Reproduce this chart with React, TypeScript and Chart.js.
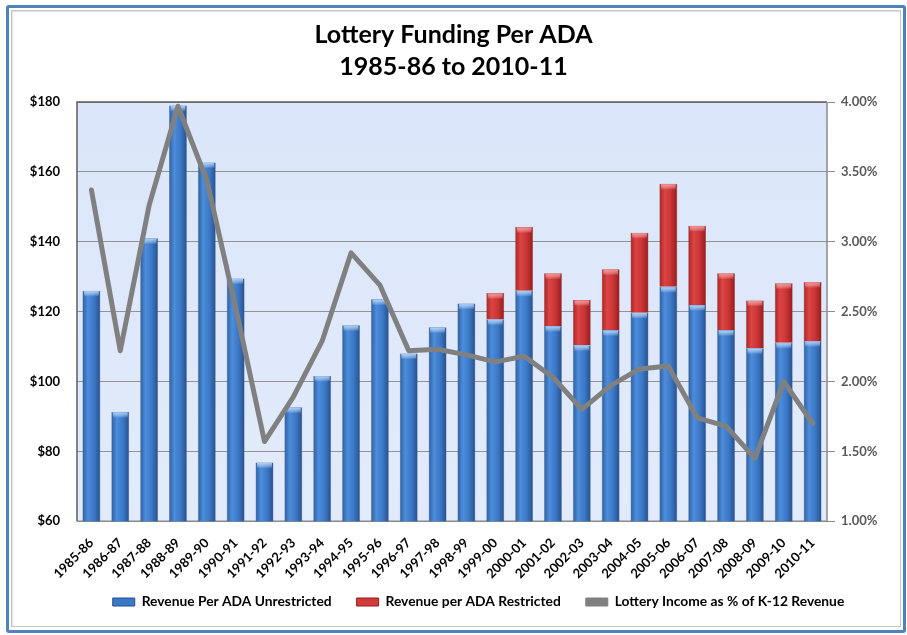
import React, { useEffect, useRef } from "react";
import { Chart, registerables } from "chart.js";

Chart.register(...registerables);

const categories = [
  "1985-86", "1986-87", "1987-88", "1988-89", "1989-90", "1990-91", "1991-92",
  "1992-93", "1993-94", "1994-95", "1995-96", "1996-97", "1997-98", "1998-99",
  "1999-00", "2000-01", "2001-02", "2002-03", "2003-04", "2004-05", "2005-06",
  "2006-07", "2007-08", "2008-09", "2009-10", "2010-11",
];

const unrestricted = [
  126, 91.3, 141, 179, 162.7, 129.5, 76.8, 92.6, 101.6, 116.1, 123.5, 108, 115.5,
  122.3, 117.8, 126, 115.9, 110.4, 114.7, 119.7, 127.1, 121.9, 114.7, 109.5, 111.1, 111.6,
];

const restricted = [
  null, null, null, null, null, null, null, null, null, null, null, null, null, null,
  7.5, 18.2, 15.1, 12.9, 17.4, 22.9, 29.5, 22.7, 16.3, 13.7, 17.0, 16.9,
];

const lotteryPct = [
  3.37, 2.22, 3.26, 3.97, 3.44, 2.53, 1.57, 1.89, 2.29, 2.92, 2.69, 2.22, 2.23,
  2.19, 2.14, 2.18, 2.03, 1.8, 1.97, 2.09, 2.11, 1.74, 1.68, 1.45, 2.0, 1.7,
];

const leftTicks = [60, 80, 100, 120, 140, 160, 180];
const rightTicks = [1.0, 1.5, 2.0, 2.5, 3.0, 3.5, 4.0];

const titleLines = ["Lottery Funding Per ADA", "1985-86 to 2010-11"];
const seriesNames = [
  "Revenue Per ADA Unrestricted",
  "Revenue per ADA Restricted",
  "Lottery Income as % of K-12 Revenue",
];

const FONT = "Lato, 'Noto Sans', sans-serif";
const LEGEND_FONT = 13.8;
const LEGEND_PAD = 25;

function barGradient(stops: string[]) {
  return (ctx: any) => {
    const chart = ctx.chart;
    const xs = chart.scales && chart.scales.x;
    if (!xs || ctx.type !== "data" || !chart.chartArea) return stops[2];
    const cx = xs.getPixelForValue(ctx.dataIndex);
    const w = (xs.width / categories.length) * 0.62;
    const g = chart.ctx.createLinearGradient(cx - w / 2, 0, cx + w / 2, 0);
    g.addColorStop(0, stops[0]);
    g.addColorStop(0.3, stops[1]);
    g.addColorStop(0.65, stops[2]);
    g.addColorStop(1, stops[3]);
    return g;
  };
}

const plotDecor = {
  id: "plotDecor",
  afterLayout(chart: any) {
    const lg = chart.legend;
    if (lg) {
      lg.left += 25;
      lg.right += 25;
      const h = lg.bottom - lg.top;
      lg.top = 602 - LEGEND_PAD - LEGEND_FONT / 2;
      lg.bottom = lg.top + h;
    }
  },
  beforeDraw(chart: any) {
    const { ctx, chartArea: a } = chart;
    ctx.save();
    const g = ctx.createLinearGradient(0, a.top, 0, a.bottom);
    g.addColorStop(0, "#dbe6fa");
    g.addColorStop(1, "#e2ebfb");
    ctx.fillStyle = g;
    ctx.fillRect(a.left, a.top, a.right - a.left, a.bottom - a.top);
    ctx.restore();
  },
  beforeDatasetsDraw(chart: any) {
    const { ctx, chartArea: a } = chart;
    ctx.save();
    ctx.lineWidth = 1.5;
    ctx.strokeStyle = "#5f5f5f";
    ctx.beginPath();
    ctx.moveTo(a.left, a.bottom);
    ctx.lineTo(a.left, a.top);
    ctx.lineTo(a.right, a.top);
    ctx.stroke();
    ctx.strokeStyle = "#8a8a8a";
    ctx.beginPath();
    ctx.moveTo(a.right, a.top);
    ctx.lineTo(a.right, a.bottom);
    ctx.lineTo(a.left, a.bottom);
    ctx.stroke();
    ctx.restore();
  },
  afterDatasetDraw(chart: any, args: any) {
    const meta = args.meta;
    if (meta.type !== "bar") return;
    const ds = chart.data.datasets[args.index];
    const cap = args.index === 0 ? "rgba(175,215,255,0.95)" : "rgba(255,140,140,0.95)";
    const { ctx, chartArea: a } = chart;
    ctx.save();
    ctx.beginPath();
    ctx.rect(a.left, a.top, a.right - a.left, a.bottom - a.top);
    ctx.clip();
    meta.data.forEach((el: any, i: number) => {
      if (ds.data[i] == null) return;
      const { x, y, width } = el.getProps(["x", "y", "width"], true);
      const g = ctx.createLinearGradient(0, y, 0, y + 6);
      g.addColorStop(0, cap);
      g.addColorStop(1, "rgba(255,255,255,0)");
      ctx.fillStyle = g;
      ctx.fillRect(x - width / 2 + 1.5, y + 0.5, width - 3, 6);
    });
    ctx.restore();
  },
};

export default function App() {
  const ref = useRef<HTMLCanvasElement | null>(null);

  useEffect(() => {
    if (!ref.current) return;
    const chart = new Chart(ref.current, {
      type: "bar",
      data: {
        labels: categories,
        datasets: [
          {
            type: "bar",
            label: seriesNames[0],
            data: unrestricted,
            yAxisID: "y",
            order: 1,
            backgroundColor: barGradient(["#2f5e9c", "#4c8ddc", "#3b78c6", "#27508c"]),
            borderColor: "rgba(40,80,140,0.8)",
            borderWidth: 0.5,
            barPercentage: 0.62,
            categoryPercentage: 1,
          },
          {
            type: "bar",
            label: seriesNames[1],
            data: restricted,
            yAxisID: "y",
            order: 1,
            backgroundColor: barGradient(["#a62525", "#dd4444", "#c83434", "#951c1c"]),
            borderColor: "rgba(130,20,20,0.8)",
            borderWidth: 0.5,
            barPercentage: 0.62,
            categoryPercentage: 1,
          },
          {
            type: "line",
            label: seriesNames[2],
            data: lotteryPct,
            yAxisID: "y1",
            order: 0,
            borderColor: "#808080",
            backgroundColor: "#808080",
            borderWidth: 5,
            pointRadius: 0,
            tension: 0,
            borderJoinStyle: "round",
            borderCapStyle: "round",
          } as any,
        ],
      },
      options: {
        animation: false,
        responsive: false,
        layout: { padding: { top: 19, bottom: 1, left: 0, right: 0 } },
        plugins: {
          tooltip: { enabled: false },
          title: {
            display: true,
            text: titleLines,
            color: "#000000",
            font: { family: FONT, size: 25, weight: "bold", lineHeight: 1.28 },
            padding: { top: 0, bottom: 19 },
          },
          legend: {
            position: "bottom",
            labels: {
              boxWidth: 22,
              boxHeight: 8,
              padding: LEGEND_PAD,
              color: "#000000",
              font: { family: FONT, size: LEGEND_FONT, weight: "bold" },
              generateLabels: () => [
                { text: seriesNames[0], fillStyle: "#3b78c6", strokeStyle: "#27508c", lineWidth: 1, datasetIndex: 0, hidden: false },
                { text: seriesNames[1], fillStyle: "#d03c3c", strokeStyle: "#951c1c", lineWidth: 1, datasetIndex: 1, hidden: false },
                { text: seriesNames[2], fillStyle: "#808080", strokeStyle: "#808080", lineWidth: 1, datasetIndex: 2, hidden: false },
              ] as any,
            },
          },
        },
        scales: {
          x: {
            stacked: true,
            grid: { display: false },
            border: { display: false },
            ticks: {
              autoSkip: false,
              maxRotation: 45,
              minRotation: 45,
              padding: 6,
              color: "#000000",
              font: { family: FONT, size: 13, weight: "bold" },
            },
            afterFit: (s: any) => {
              s.height = 64;
            },
          },
          y: {
            stacked: true,
            position: "left",
            min: 60,
            max: 180,
            afterBuildTicks: (s: any) => {
              s.ticks = leftTicks.map((v) => ({ value: v }));
            },
            grid: { color: "#939393", lineWidth: 1, drawTicks: false },
            border: { display: false },
            ticks: {
              padding: 17,
              color: "#000000",
              font: { family: FONT, size: 13, weight: "bold" },
              callback: (v: any) => "$" + v,
            },
            afterFit: (s: any) => {
              s.width = 77;
            },
          },
          y1: {
            position: "right",
            min: 1,
            max: 4,
            afterBuildTicks: (s: any) => {
              s.ticks = rightTicks.map((v) => ({ value: v }));
            },
            grid: { drawOnChartArea: false, drawTicks: true, tickLength: 8, color: "#8e8e8e" },
            border: { display: false },
            ticks: {
              padding: 6,
              color: "#595959",
              font: { family: FONT, size: 13, weight: "bold" },
              callback: (v: any) => Number(v).toFixed(2) + "%",
            },
            afterFit: (s: any) => {
              s.width = 80;
            },
          },
        },
      },
      plugins: [plotDecor],
    } as any);
    return () => chart.destroy();
  }, []);

  return (
    <div style={{ position: "fixed", left: 0, top: 0, width: 907, height: 635, background: "#ffffff" }}>
      <div
        style={{
          position: "absolute",
          left: 6,
          top: 5,
          width: 894,
          height: 622,
          border: "3px solid #4f81bd",
          borderRadius: 3,
          background: "#ffffff",
        }}
      >
        <div
          style={{
            position: "absolute",
            left: 2,
            top: 2,
            right: 2,
            bottom: 3,
            border: "1px solid #c4c4c4",
            boxShadow: "inset 1px 1px 1px rgba(0,0,0,0.12)",
          }}
        />
      </div>
      <canvas ref={ref} width={907} height={635} style={{ position: "absolute", left: 0, top: 0 }} />
    </div>
  );
}
